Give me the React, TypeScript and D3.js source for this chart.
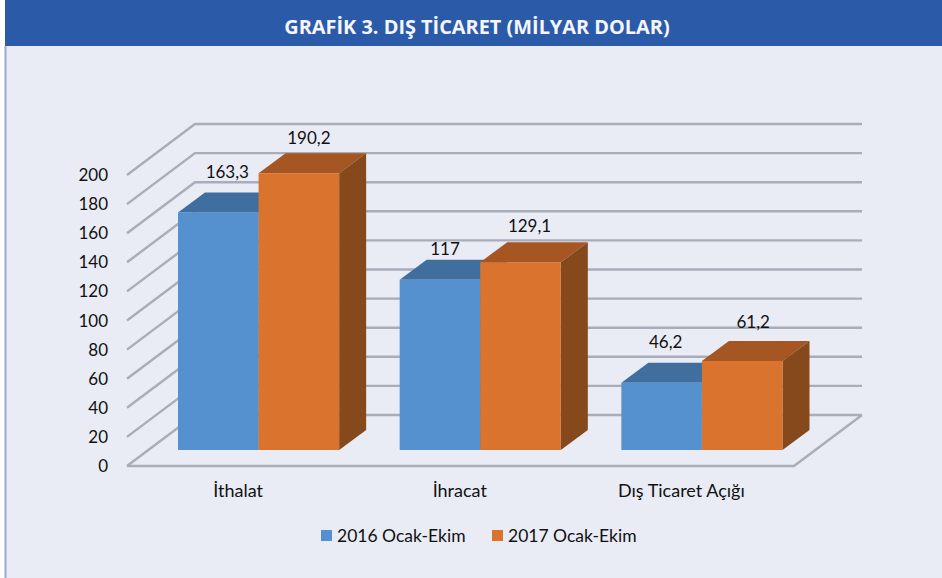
import React from "react";
import * as d3 from "d3";

const categories = ["İthalat", "İhracat", "Dış Ticaret Açığı"];
const seriesNames = ["2016 Ocak-Ekim", "2017 Ocak-Ekim"];
const values2016 = [163.3, 117, 46.2];
const values2017 = [190.2, 129.1, 61.2];
const valueLabels2016 = ["163,3", "117", "46,2"];
const valueLabels2017 = ["190,2", "129,1", "61,2"];
const ticks = [0, 20, 40, 60, 80, 100, 120, 140, 160, 180, 200];

const FRONT = { fill: ["#5490CF", "#D9732E"], top: ["#3F6E9E", "#A65622"], side: ["#34597F", "#86491B"] };
const labelDy2016 = [-34.4, -24.8, -34.8];
const labelDy2017 = [-29.3, -30, -33];
const labelDx2016 = [9, 5, 4];
const labelDx2017 = [10, 9, 11];
const F = "Lato, Carlito, sans-serif";

export default function App() {
  const yFront = d3.scaleLinear().domain([0, 200]).range([466, 175]);
  const x0 = 127, x1 = 794, wallDx = 68, wallDy = -51;
  const yBar = d3.scaleLinear().domain([0, 200]).range([450, 159]);
  const barDx = 27, barDy = -20;
  const band = d3.scaleBand().domain(categories).range([178, 782.5]).paddingInner(0.273).paddingOuter(0);
  const inner = d3.scaleBand().domain(["0", "1"]).range([0, band.bandwidth()]);
  const series = [values2016, values2017];
  const labels = [valueLabels2016, valueLabels2017];
  const dys = [labelDy2016, labelDy2017];
  const dxs = [labelDx2016, labelDx2017];
  const line = d3.line();

  return (
    <svg width={942} height={578} style={{ position: "fixed", left: 0, top: 0, display: "block" }}>
      <defs>
        <filter id="soft" x="-5%" y="-5%" width="110%" height="110%">
          <feGaussianBlur stdDeviation="0.6" />
        </filter>
      </defs>
      <rect x={0} y={0} width={942} height={578} fill="#FFFFFF" />
      <rect x={5} y={46} width={937} height={532} fill="#E9ECF5" />
      <rect x={4.5} y={46} width={2} height={532} fill="#9CA8CE" />
      <rect x={5} y={0} width={937} height={46} fill="#2B5BA8" />
      <text x={477} y={34} textAnchor="middle" fill="#F4F6FB" fontFamily="'Open Sans', sans-serif" fontWeight={700} fontSize={19.9}>
        GRAFİK 3. DIŞ TİCARET (MİLYAR DOLAR)
      </text>

      <g filter="url(#soft)">
        {ticks.map((t) => {
          const y = yFront(t);
          const pts: [number, number][] = [[x0, y], [x0 + wallDx, y + wallDy], [x1 + wallDx, y + wallDy]];
          return <path key={t} d={line(pts) || ""} fill="none" stroke="#A9ACB9" strokeWidth={2.4} />;
        })}
        <path d={line([[x0, yFront(0)], [x1, yFront(0)], [x1 + wallDx, yFront(0) + wallDy]]) || ""} fill="none" stroke="#A9ACB9" strokeWidth={2.4} />
        {categories.map((c, i) => {
          const gx = band(c) as number;
          return [0, 1].map((s) => {
            const bx = gx + (inner(String(s)) as number);
            const w = inner.bandwidth();
            const yt = yBar(series[s][i]);
            const yb = yBar(0);
            return (
              <g key={c + s}>
                <path d={`M${bx},${yt}L${bx + barDx},${yt + barDy}L${bx + w + barDx},${yt + barDy}L${bx + w},${yt}Z`} fill={FRONT.top[s]} />
                <path d={`M${bx + w},${yt}L${bx + w + barDx},${yt + barDy}L${bx + w + barDx},${yb + barDy}L${bx + w},${yb}Z`} fill={FRONT.side[s]} />
                <rect x={bx} y={yt} width={w} height={yb - yt} fill={FRONT.fill[s]} />
              </g>
            );
          });
        })}
      </g>

      {ticks.map((t) => (
        <text key={t} x={108} y={yFront(t) + 6} textAnchor="end" fontFamily={F} fontSize={17} fill="#111">
          {t}
        </text>
      ))}
      {categories.map((c, i) =>
        [0, 1].map((s) => {
          const bx = (band(c) as number) + (inner(String(s)) as number);
          return (
            <text key={c + s} x={bx + inner.bandwidth() / 2 + dxs[s][i]} y={yBar(series[s][i]) + dys[s][i]} textAnchor="middle" fontFamily={F} fontSize={17} fill="#111">
              {labels[s][i]}
            </text>
          );
        })
      )}
      {categories.map((c) => (
        <text key={c} x={(band(c) as number) + band.bandwidth() / 2 - 20.5} y={497} textAnchor="middle" fontFamily={F} fontSize={18} fill="#111">
          {c}
        </text>
      ))}
      {seriesNames.map((n, i) => {
        const lx = i === 0 ? 321 : 492;
        return (
          <g key={n}>
            <rect x={lx} y={530} width={11} height={11} fill={FRONT.fill[i]} />
            <text x={lx + 16} y={541.5} fontFamily={F} fontSize={17.5} fill="#111">
              {n}
            </text>
          </g>
        );
      })}
    </svg>
  );
}
